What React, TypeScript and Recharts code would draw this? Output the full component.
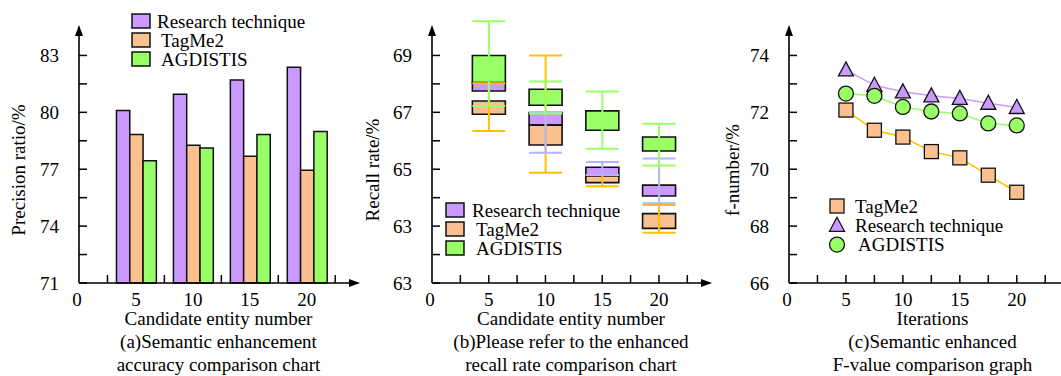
import React from 'react';
import { Bar, BarChart, ComposedChart, Legend, Line, ReferenceDot, ReferenceLine, XAxis, YAxis } from 'recharts';

const FONT = '"Liberation Serif", "Times New Roman", serif';
const FS = 19;

const seriesNames = ['Research technique', 'TagMe2', 'AGDISTIS'];
const fillColors = ['#cc99ff', '#fac090', '#99ff66'];
const whiskerColors = ['#b4b4ff', '#ffc000', '#99ff66'];

const xTicks = [0, 2.5, 5, 7.5, 10, 12.5, 15, 17.5, 20, 22.5];
const xTickLabels = ['0', '', '5', '', '10', '', '15', '', '20', ''];

// (a) precision
const entityNumbers = [5, 10, 15, 20];
const precisionResearch = [80.1, 80.96, 81.7, 82.38];
const precisionTagMe2 = [78.83, 78.26, 77.68, 76.94];
const precisionAgdistis = [77.45, 78.12, 78.83, 78.99];
const precisionTicks = [71, 72.5, 74, 75.5, 77, 78.5, 80, 81.5, 83];
const precisionTickLabels = ['71', '', '74', '', '77', '', '80', '', '83'];

// (b) recall boxes [low, high] and whiskers [low, high]
const recallResearchBox = [[67.75, 68.05], [66.55, 66.99], [64.76, 65.07], [64.06, 64.44]];
const recallTagMe2Box = [[66.93, 67.4], [65.85, 66.55], [64.53, 64.76], [62.92, 63.44]];
const recallAgdistisBox = [[68.05, 69.0], [67.25, 67.81], [66.37, 67.05], [65.64, 66.13]];
const recallResearchWhisker = [null, [65.58, 66.99], [64.8, 65.25], [63.8, 65.38]];
const recallTagMe2Whisker = [[66.34, 68.02], [64.88, 69.0], [64.4, 64.8], [62.77, 63.74]];
const recallAgdistisWhisker = [[67.22, 70.2], [66.96, 68.08], [65.72, 67.73], [65.13, 66.6]];
const recallTicks = [61, 62, 63, 64, 65, 66, 67, 68, 69];
const recallTickLabels = ['63', '', '63', '', '65', '', '67', '', '69'];

// (c) f-value
const iterations = [5, 7.5, 10, 12.5, 15, 17.5, 20];
const fTagMe2 = [72.08, 71.37, 71.13, 70.62, 70.4, 69.79, 69.19];
const fResearch = [73.49, 72.95, 72.72, 72.58, 72.49, 72.32, 72.17];
const fAgdistis = [72.66, 72.58, 72.19, 72.03, 71.96, 71.61, 71.54];
const fTicks = [66, 67, 68, 69, 70, 71, 72, 73, 74];
const fTickLabels = ['66', '', '68', '', '70', '', '72', '', '74'];

const precisionData = entityNumbers.map((x, i) => ({
  x,
  research: precisionResearch[i],
  tagme2: precisionTagMe2[i],
  agdistis: precisionAgdistis[i],
}));

const recallData = entityNumbers.map((x, i) => ({
  x,
  researchBox: recallResearchBox[i],
  tagme2Box: recallTagMe2Box[i],
  agdistisBox: recallAgdistisBox[i],
  researchWhisker: recallResearchWhisker[i],
  tagme2Whisker: recallTagMe2Whisker[i],
  agdistisWhisker: recallAgdistisWhisker[i],
}));

const fData = iterations.map((x, i) => ({
  x,
  tagme2: fTagMe2[i],
  research: fResearch[i],
  agdistis: fAgdistis[i],
}));

const txt = { fontFamily: FONT, fontSize: FS, fill: '#000' };

function XTick(props: any) {
  const { x, y, payload, marks } = props;
  const label = xTickLabels[xTicks.indexOf(payload.value)] ?? '';
  const showMark = marks || label === '';
  return (
    <g>
      {showMark && payload.value !== 0 && (
        <line x1={x} x2={x} y1={y} y2={y - 8} stroke="#000" strokeWidth={1.5} />
      )}
      {label && (
        <text x={x - (payload.value === 0 ? 2 : 0)} y={y + 23} textAnchor="middle" {...txt}>
          {label}
        </text>
      )}
    </g>
  );
}

function YTick(props: any) {
  const { x, y, payload, ticks, labels } = props;
  const label = labels[ticks.indexOf(payload.value)] ?? '';
  return (
    <g>
      <line x1={x} x2={x + 8} y1={y} y2={y} stroke="#000" strokeWidth={1.5} />
      {label && (
        <text x={x - 20} y={y + 7} textAnchor="end" {...txt}>
          {label}
        </text>
      )}
    </g>
  );
}

function XCaption(props: any) {
  const { viewBox, lines, dx = 0 } = props;
  const cx = viewBox.x + viewBox.width / 2 + dx;
  const base = viewBox.y;
  return (
    <g>
      {lines.map((l: string, i: number) => (
        <text key={i} x={cx} y={base + 42 + i * 23} textAnchor="middle" {...txt}>
          {l}
        </text>
      ))}
    </g>
  );
}

function YTitle(props: any) {
  const { viewBox, value, gap = 60 } = props;
  const cx = viewBox.x + viewBox.width - gap;
  const cy = 170;
  return (
    <text x={cx} y={cy} transform={`rotate(-90 ${cx} ${cy})`} textAnchor="middle" dominantBaseline="central" {...txt}>
      {value}
    </text>
  );
}

const arrowUp = (p: any) => (
  <polygon points={`${p.cx},${p.cy - 2} ${p.cx - 4},${p.cy + 9} ${p.cx + 4},${p.cy + 9}`} fill="#000" />
);
const arrowRight = (p: any) => (
  <polygon points={`${p.cx + 2},${p.cy} ${p.cx - 9},${p.cy - 4} ${p.cx - 9},${p.cy + 4}`} fill="#000" />
);

function Whisker(props: any) {
  const { x, y, width, height, color, payload, field } = props;
  if (!payload || payload[field] == null || !Number.isFinite(y)) return <g />;
  const cx = x + width / 2;
  return (
    <g stroke={color} strokeWidth={2}>
      <line x1={cx} x2={cx} y1={y} y2={y + height} />
      <line x1={x} x2={x + width} y1={y} y2={y} />
      <line x1={x} x2={x + width} y1={y + height} y2={y + height} />
    </g>
  );
}

function Marker({ kind, cx, cy, fill }: any) {
  if (kind === 'square')
    return <rect x={cx - 7} y={cy - 7} width={14} height={14} fill={fill} stroke="#111" strokeWidth={1.3} />;
  if (kind === 'triangle')
    return (
      <polygon
        points={`${cx},${cy - 8} ${cx - 7.5},${cy + 6} ${cx + 7.5},${cy + 6}`}
        fill={fill}
        stroke="#111"
        strokeWidth={1.3}
      />
    );
  return <circle cx={cx} cy={cy} r={7.5} fill={fill} stroke="#111" strokeWidth={1.3} />;
}

function SeriesLegend({ items, rowH, textX, kind }: any) {
  return (
    <svg width={240} height={rowH * items.length + 4} style={{ overflow: 'visible' }}>
      {items.map((it: any, i: number) => {
        const cy = 10 + i * rowH;
        return (
          <g key={it.name}>
            {kind === 'box' ? (
              <rect x={2} y={cy - 7} width={18} height={14} fill={it.fill} stroke="#111" strokeWidth={1.5} />
            ) : (
              <Marker kind={it.marker} cx={9} cy={cy} fill={it.fill} />
            )}
            <text x={textX + (it.indent || 0)} y={cy + 6.5} {...txt}>
              {it.name}
            </text>
          </g>
        );
      })}
    </svg>
  );
}

const boxLegendItems = seriesNames.map((name, i) => ({ name, fill: fillColors[i], indent: i === 0 ? 0 : 4 }));
const markerLegendItems = [
  { name: seriesNames[1], fill: fillColors[1], marker: 'square' },
  { name: seriesNames[0], fill: fillColors[0], marker: 'triangle' },
  { name: seriesNames[2], fill: fillColors[2], marker: 'circle', indent: 3 },
];

const axisLine = { stroke: '#000', strokeWidth: 1.6 };

function PrecisionChart() {
  return (
    <BarChart
      width={360}
      height={376}
      data={precisionData}
      margin={{ top: 27, right: 2, bottom: 63, left: 19 }}
      barSize={13.3}
      barGap={0}
    >
      <XAxis
        dataKey="x"
        type="number"
        domain={[0, 24.5]}
        ticks={xTicks}
        interval={0}
        tickSize={0}
        tickMargin={0}
        tickLine={false}
        axisLine={axisLine}
        height={30}
        tick={<XTick marks={false} />}
        label={<XCaption lines={['Candidate entity number', '(a)Semantic enhancement', 'accuracy comparison chart']} />}
      />
      <YAxis
        type="number"
        domain={[71, 84.5]}
        ticks={precisionTicks}
        interval={0}
        tickSize={0}
        tickMargin={0}
        tickLine={false}
        axisLine={axisLine}
        width={60}
        tick={<YTick ticks={precisionTicks} labels={precisionTickLabels} />}
        label={<YTitle value="Precision ratio/%" gap={61} />}
      />
      <Bar dataKey="research" fill={fillColors[0]} stroke="#111" strokeWidth={1.5} isAnimationActive={false} />
      <Bar dataKey="tagme2" fill={fillColors[1]} stroke="#111" strokeWidth={1.5} isAnimationActive={false} />
      <Bar dataKey="agdistis" fill={fillColors[2]} stroke="#111" strokeWidth={1.5} isAnimationActive={false} />
      <ReferenceDot x={0} y={84.5} ifOverflow="visible" shape={arrowUp} />
      <ReferenceDot x={24.5} y={71} ifOverflow="visible" shape={arrowRight} />
      <Legend
        layout="vertical"
        align="center"
        verticalAlign="middle"
        wrapperStyle={{ left: 130, top: 10.5, width: 240, height: 62 }}
        content={() => <SeriesLegend items={boxLegendItems} rowH={19} textX={27} kind="box" />}
      />
    </BarChart>
  );
}

function RecallChart() {
  const boxKeys = ['researchBox', 'tagme2Box', 'agdistisBox'];
  const whiskerOrder = [1, 0, 2];
  const whiskerKeys = ['researchWhisker', 'tagme2Whisker', 'agdistisWhisker'];
  return (
    <ComposedChart
      width={360}
      height={376}
      data={recallData}
      margin={{ top: 21.3, right: 10, bottom: 63, left: 12 }}
      barSize={33}
      barGap={-33}
    >
      <XAxis
        dataKey="x"
        type="number"
        domain={[0, 24.5]}
        ticks={xTicks}
        interval={0}
        tickSize={0}
        tickMargin={0}
        tickLine={false}
        axisLine={axisLine}
        height={30}
        tick={<XTick marks />}
        label={<XCaption lines={['Candidate entity number', '(b)Please refer to the enhanced', 'recall rate comparison chart']} />}
      />
      <YAxis
        type="number"
        domain={[61, 70.2]}
        ticks={recallTicks}
        interval={0}
        tickSize={0}
        tickMargin={0}
        tickLine={false}
        axisLine={false}
        width={60}
        tick={<YTick ticks={recallTicks} labels={recallTickLabels} />}
        label={<YTitle value="Recall rate/%" gap={60} />}
      />
      <ReferenceLine
        segment={[
          { x: 0, y: 61 },
          { x: 0, y: 70 },
        ]}
        stroke="#000"
        strokeWidth={1.6}
      />
      {boxKeys.map((k, i) => (
        <Bar key={k} dataKey={k} fill={fillColors[i]} stroke="#111" strokeWidth={1.6} isAnimationActive={false} />
      ))}
      {whiskerOrder.map((i) => (
        <Bar
          key={whiskerKeys[i]}
          dataKey={whiskerKeys[i]}
          isAnimationActive={false}
          shape={(p: any) => <Whisker {...p} color={whiskerColors[i]} field={whiskerKeys[i]} />}
        />
      ))}
      <ReferenceDot x={0} y={70} ifOverflow="visible" shape={arrowUp} />
      <ReferenceDot x={24.5} y={61} ifOverflow="visible" shape={arrowRight} />
      <Legend
        layout="vertical"
        align="center"
        verticalAlign="middle"
        wrapperStyle={{ left: 84, top: 200, width: 240, height: 62 }}
        content={() => <SeriesLegend items={boxLegendItems} rowH={19} textX={28} kind="box" />}
      />
    </ComposedChart>
  );
}

function FValueChart() {
  const order = [
    { key: 'tagme2', fill: fillColors[1], line: whiskerColors[1], marker: 'square' },
    { key: 'research', fill: fillColors[0], line: fillColors[0], marker: 'triangle' },
    { key: 'agdistis', fill: fillColors[2], line: fillColors[2], marker: 'circle' },
  ];
  return (
    <ComposedChart width={360} height={376} data={fData} margin={{ top: 27, right: 12, bottom: 63, left: 9 }}>
      <XAxis
        dataKey="x"
        type="number"
        domain={[0, 24.5]}
        ticks={xTicks}
        interval={0}
        tickSize={0}
        tickMargin={0}
        tickLine={false}
        axisLine={axisLine}
        height={30}
        tick={<XTick marks />}
        label={<XCaption dx={4} lines={['Iterations', '(c)Semantic enhanced', 'F-value comparison graph']} />}
      />
      <YAxis
        type="number"
        domain={[66, 75]}
        ticks={fTicks}
        interval={0}
        tickSize={0}
        tickMargin={0}
        tickLine={false}
        axisLine={axisLine}
        width={60}
        tick={<YTick ticks={fTicks} labels={fTickLabels} />}
        label={<YTitle value="f-number/%" gap={57} />}
      />
      {order.map((s) => [
        <Line
          key={s.key + '-m'}
          dataKey={s.key}
          stroke="none"
          isAnimationActive={false}
          activeDot={false}
          dot={(p: any) => <Marker key={p.index} kind={s.marker} cx={p.cx} cy={p.cy} fill={s.fill} />}
        />,
        <Line
          key={s.key + '-l'}
          dataKey={s.key}
          stroke={s.line}
          strokeWidth={1.5}
          dot={false}
          activeDot={false}
          isAnimationActive={false}
        />,
      ])}
      <ReferenceDot x={0} y={75} ifOverflow="visible" shape={arrowUp} />
      <Legend
        layout="vertical"
        align="center"
        verticalAlign="middle"
        wrapperStyle={{ left: 108, top: 196, width: 240, height: 62 }}
        content={() => <SeriesLegend items={markerLegendItems} rowH={19.3} textX={27} kind="marker" />}
      />
    </ComposedChart>
  );
}

export default function App() {
  return (
    <div
      style={{
        position: 'absolute',
        left: 0,
        top: 0,
        width: 1061,
        height: 376,
        overflow: 'hidden',
        background: '#fff',
      }}
    >
      <div style={{ position: 'absolute', left: 0, top: 0 }}>
        <PrecisionChart />
      </div>
      <div style={{ position: 'absolute', left: 360, top: 0 }}>
        <RecallChart />
      </div>
      <div style={{ position: 'absolute', left: 720, top: 0 }}>
        <FValueChart />
      </div>
    </div>
  );
}
